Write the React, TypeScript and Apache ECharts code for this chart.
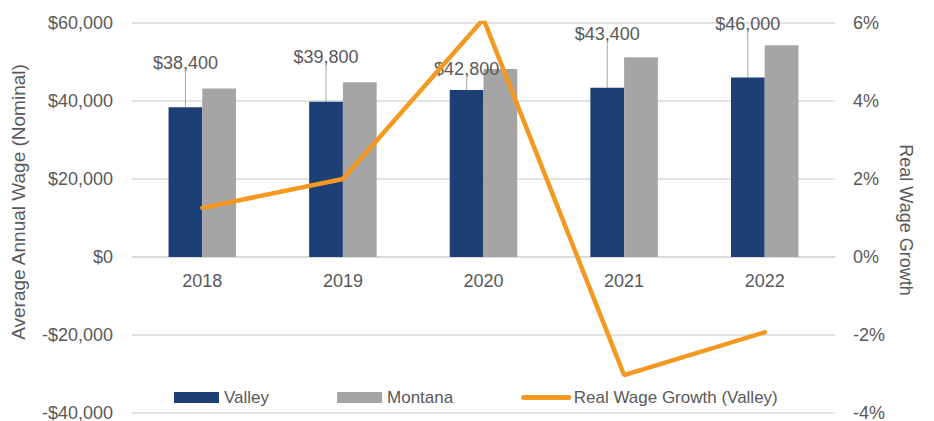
import React, { useEffect, useRef } from "react";
import * as echarts from "echarts";

const years = ["2018", "2019", "2020", "2021", "2022"];
const valleyWage = [38400, 39800, 42800, 43400, 46000];
const montanaWage = [43200, 44800, 48200, 51200, 54300];
const realWageGrowthPct = [1.26, 2.0, 6.1, -3.03, -1.93];

const wageAxis = { min: -40000, max: 60000, interval: 20000 };
const growthAxis = { min: -4, max: 6, interval: 2 };

// label lift (style) for the Valley data labels
const LABEL_LIFT = [-30, -31, -7, -40, -40];

const TEXT = "#595959";
const GRID = "#d9d9d9";
const ORANGE = "#f39821";
const FONT = "'Liberation Sans', Arial, sans-serif";

function fmtMoney(v: number) {
  const s = Math.abs(v).toLocaleString("en-US");
  return (v < 0 ? "-$" : "$") + s;
}

export default function App() {
  const ref = useRef<HTMLDivElement>(null);
  useEffect(() => {
    document.body.style.margin = "0";
    if (!ref.current) return;
    const chart = echarts.init(ref.current, null, { renderer: "svg" });
    chart.setOption({
      animation: false,
      textStyle: { fontFamily: FONT },
      grid: {
        left: 132,
        right: 99,
        top: 23,
        bottom: 8,
        containLabel: false,
        outerBoundsMode: "none",
      },
      legend: {
        left: 169,
        top: 384,
        itemWidth: 45,
        itemHeight: 11,
        itemGap: 68,
        textStyle: { fontSize: 17, color: TEXT, fontFamily: FONT },
        data: [
          { name: "Valley", icon: "rect" },
          { name: "Montana", icon: "rect" },
          {
            name: "Real Wage Growth (Valley)",
            itemStyle: { opacity: 0 },
            lineStyle: { width: 5, color: ORANGE, cap: "round" },
          },
        ],
      },
      xAxis: {
        type: "category",
        data: years,
        axisTick: { show: false },
        axisLine: {
          onZero: true,
          onZeroAxisIndex: 0,
          lineStyle: { color: GRID, width: 1.5 },
        },
        axisLabel: { fontSize: 18, color: TEXT, margin: -141, fontFamily: FONT },
      },
      yAxis: [
        {
          type: "value",
          ...wageAxis,
          axisLine: { show: false },
          axisTick: { show: false },
          splitLine: { lineStyle: { color: GRID, width: 1.5 } },
          axisLabel: {
            fontSize: 18,
            color: TEXT,
            margin: 19,
            fontFamily: FONT,
            formatter: (v: number) => fmtMoney(v),
          },
        },
        {
          type: "value",
          ...growthAxis,
          axisLine: { show: false },
          axisTick: { show: false },
          splitLine: { show: false },
          axisLabel: {
            fontSize: 18,
            color: TEXT,
            margin: 18,
            fontFamily: FONT,
            formatter: "{value}%",
          },
        },
      ],
      series: [
        {
          name: "Valley",
          type: "bar",
          data: valleyWage,
          barWidth: "24%",
          barGap: "0%",
          itemStyle: { color: "#1c3f75" },
          label: {
            show: true,
            position: "top",
            distance: 5,
            fontSize: 18,
            color: TEXT,
            fontFamily: FONT,
            formatter: (p: any) => fmtMoney(p.value),
          },
          labelLayout: (p: any) => ({ dy: LABEL_LIFT[p.dataIndex] }),
          labelLine: { show: true, lineStyle: { color: "#a6a6a6", width: 1 } },
        },
        {
          name: "Montana",
          type: "bar",
          data: montanaWage,
          barWidth: "24%",
          barGap: "0%",
          itemStyle: { color: "#a5a5a5" },
        },
        {
          name: "Real Wage Growth (Valley)",
          type: "line",
          yAxisIndex: 1,
          data: realWageGrowthPct,
          symbol: "none",
          z: 5,
          lineStyle: { color: ORANGE, width: 4.5, cap: "round" },
          itemStyle: { color: ORANGE },
        },
      ],
      graphic: [
        {
          type: "text",
          x: 18,
          y: 202,
          rotation: Math.PI / 2,
          style: {
            text: "Average Annual Wage (Nominal)",
            fontSize: 19,
            fill: TEXT,
            fontFamily: FONT,
            align: "center",
            verticalAlign: "middle",
          },
        },
        {
          type: "text",
          x: 906,
          y: 220,
          rotation: -Math.PI / 2,
          style: {
            text: "Real Wage Growth",
            fontSize: 18,
            fill: TEXT,
            fontFamily: FONT,
            align: "center",
            verticalAlign: "middle",
          },
        },
      ],
    });
    return () => chart.dispose();
  }, []);
  return <div ref={ref} style={{ width: 934, height: 421 }} />;
}
